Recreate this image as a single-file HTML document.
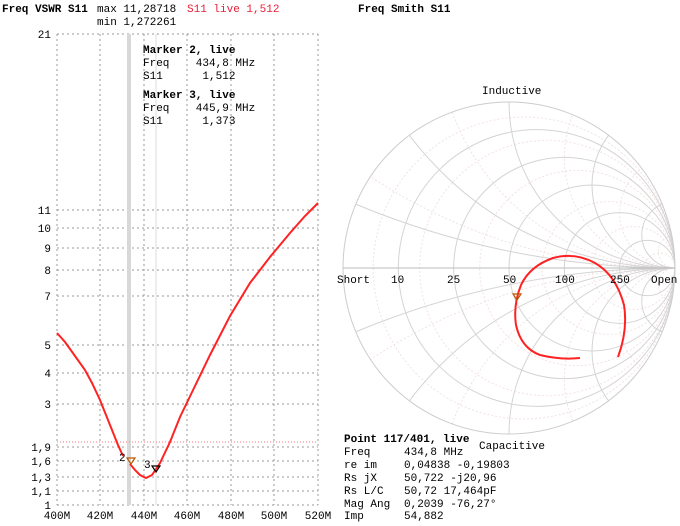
<!DOCTYPE html>
<html><head><meta charset="utf-8"><style>
html,body{margin:0;padding:0;background:#fff;width:680px;height:526px;overflow:hidden}
svg{display:block;overflow:hidden;position:absolute;left:0;top:0}
svg text{font-family:"Liberation Mono",monospace;font-size:11px;fill:#000;white-space:pre}
</style></head><body>
<svg id="s" width="680" height="526" viewBox="0 0 680 526" xmlns="http://www.w3.org/2000/svg" xml:space="preserve">
<g id="grid"></g>
<rect x="127" y="34" width="4" height="471" fill="#d8d8d8"/>
<line x1="156" y1="34" x2="156" y2="505" stroke="#ddd"/>
<line x1="57" y1="442" x2="318" y2="442" stroke="#f77" stroke-dasharray="1,2"/>
<polyline fill="none" stroke="#f22" stroke-width="2" points="57,333 65,342 75,356 85,370 92,383 100,400 110,425 118,445 123,456"/>
<polyline fill="none" stroke="#f22" stroke-width="2" points="130,464 135,470 140,475 146,478 152,475 160,463 170,442 180,417 195,386 210,355 230,316 250,283 270,257 290,233 305,216 318,203"/>
<path d="M127,458 L135,458 L131,464Z" fill="none" stroke="#b50" stroke-width="1.2"/>
<path d="M152,466 L160,466 L156,472Z" fill="none" stroke="#000" stroke-width="1.2"/>
<text x="119" y="461">2</text><text x="144" y="468">3</text>
<text x="2" y="12" style="font-weight:bold">Freq VSWR S11</text>
<text x="97" y="12">max 11,28718</text>
<text x="97" y="25">min 1,272261</text>
<text x="187" y="12" style="fill:#e8203a">S11 live 1,512</text>
<text x="143" y="53" style="font-weight:bold">Marker 2, live</text>
<text x="143" y="66">Freq    434,8 MHz</text>
<text x="143" y="79">S11      1,512</text>
<text x="143" y="98" style="font-weight:bold">Marker 3, live</text>
<text x="143" y="111">Freq    445,9 MHz</text>
<text x="143" y="124">S11      1,373</text>
<g id="smith"></g>
<path fill="none" stroke="#f22" stroke-width="2" d="M618,357 Q628,330 624,305 Q616,275 595,263 Q575,252 553,258 Q530,266 521,285 Q513,305 516,325 Q521,348 540,355 Q560,360 580,358"/>
<path d="M513,294 L521,294 L517,300Z" fill="none" stroke="#b50" stroke-width="1.2"/>
<text x="358" y="12" style="font-weight:bold">Freq Smith S11</text>
<text x="482" y="94">Inductive</text>
<text x="479" y="449">Capacitive</text>
<text x="337" y="283">Short</text><text x="391" y="283">10</text><text x="447" y="283">25</text>
<text x="503" y="283">50</text><text x="555" y="283">100</text><text x="610" y="283">250</text><text x="651" y="283">Open</text>
<text x="344" y="442" style="font-weight:bold">Point 117/401, live</text>
<text x="344" y="455">Freq</text><text x="404" y="455">434,8 MHz</text>
<text x="344" y="468">re im</text><text x="404" y="468">0,04838 -0,19803</text>
<text x="344" y="481">Rs jX</text><text x="404" y="481">50,722 -j20,96</text>
<text x="344" y="494">Rs L/C</text><text x="404" y="494">50,72 17,464pF</text>
<text x="344" y="507">Mag Ang</text><text x="404" y="507">0,2039 -76,27°</text>
<text x="344" y="519">Imp</text><text x="404" y="519">54,882</text>
</svg>
<script>
var NS="http://www.w3.org/2000/svg";
function el(p,t,a,txt){var e=document.createElementNS(NS,t);for(var k in a)e.setAttribute(k,a[k]);if(txt!=null)e.textContent=txt;p.appendChild(e);return e;}
var g=document.getElementById('grid');
var xs=[57,100,144,187,231,274,318],xl=["400M","420M","440M","460M","480M","500M","520M"];
xs.forEach(function(x,i){el(g,'line',{x1:x,y1:34,x2:x,y2:505,stroke:'#999','stroke-dasharray':'2,3'});
el(g,'text',{x:x,y:519,'text-anchor':'middle'},xl[i]);});
var ys=[[34,"21"],[210,"11"],[228,"10"],[248,"9"],[270,"8"],[296,"7"],[345,"5"],[373,"4"],[404,"3"],[447,"1,9"],[461,"1,6"],[477,"1,3"],[491,"1,1"],[505,"1"]];
ys.forEach(function(p){el(g,'line',{x1:57,y1:p[0],x2:318,y2:p[0],stroke:'#999','stroke-dasharray':'2,3'});
el(g,'text',{x:51,y:p[0]+4,'text-anchor':'end'},p[1]);});
var s=document.getElementById('smith'),cx=509,cy=268,R=166;
var cp=el(s,'clipPath',{id:'cp'});el(cp,'circle',{cx:cx,cy:cy,r:R});
var cg=el(s,'g',{'clip-path':'url(#cp)'});
[0.1,0.3,0.7,1.5,3,10].forEach(function(r){var rr=R/(1+r);el(cg,'circle',{cx:cx+R*r/(1+r),cy:cy,r:rr,fill:'none',stroke:'#f2e2e2','stroke-dasharray':'2,2'});});
[0.3,0.7,1.5,3,10].forEach(function(x){var rr=R/x;[1,-1].forEach(function(sg){el(cg,'circle',{cx:cx+R,cy:cy-sg*rr,r:rr,fill:'none',stroke:'#f2e2e2','stroke-dasharray':'2,2'});});});
[0.2,0.5,1,2,5].forEach(function(r){var rr=R/(1+r);el(cg,'circle',{cx:cx+R*r/(1+r),cy:cy,r:rr,fill:'none',stroke:'#d4d4d4'});});
[0.2,0.5,1,2,5].forEach(function(x){var rr=R/x;[1,-1].forEach(function(sg){el(cg,'circle',{cx:cx+R,cy:cy-sg*rr,r:rr,fill:'none',stroke:'#d4d4d4'});});});
el(s,'circle',{cx:cx,cy:cy,r:R,fill:'none',stroke:'#ccc'});
el(s,'line',{x1:cx-R,y1:cy,x2:cx+R,y2:cy,stroke:'#bbb'});
</script>
</body></html>
